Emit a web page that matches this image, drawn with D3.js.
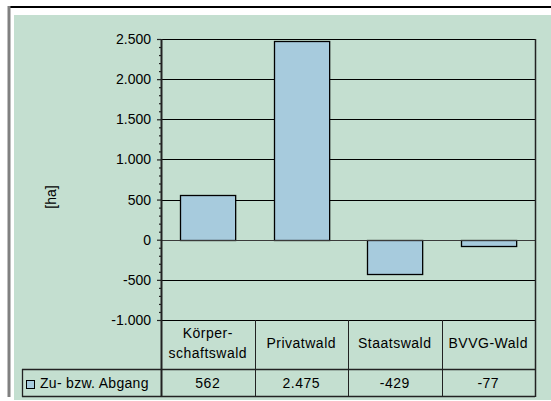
<!DOCTYPE html>
<html>
<head>
<meta charset="utf-8">
<script src="https://cdn.jsdelivr.net/npm/d3@7"></script>
<style>
  body { margin: 0; background: #fff; }
  svg text { font-family: Arial, "Liberation Sans", sans-serif; font-size: 14px; fill: #000; }
</style>
</head>
<body>
<div class="chart"></div>
<script>
// Werte
var categories = ["Körperschaftswald", "Privatwald", "Staatswald", "BVVG-Wald"];
var categoryLines = [["Körper-", "schaftswald"], ["Privatwald"], ["Staatswald"], ["BVVG-Wald"]];
var values = [562, 2475, -429, -77];
var seriesName = "Zu- bzw. Abgang";
var majorTicks = [-1000, -500, 0, 500, 1000, 1500, 2000, 2500];
var yLabel = "[ha]";

var de = d3.formatLocale({decimal: ",", thousands: ".", grouping: [3], currency: ["", " €"], minus: "-"});
var fmt = de.format(",d");

var W = 551, H = 401;
var plot = {left: 161, right: 535, top: 39, bottom: 320};
var table = {left: 22, mid: 369, bottom: 396};

var svg = d3.select(".chart").append("svg")
    .attr("width", W)
    .attr("height", H);

// Rahmen / Hintergrund
svg.append("rect")
    .attr("x", 14).attr("y", 15)
    .attr("width", W - 14).attr("height", 385)
    .attr("fill", "#c4dfd0");
svg.append("line")
    .attr("x1", 8).attr("x2", W)
    .attr("y1", 7).attr("y2", 7)
    .style("stroke", "#000").style("stroke-width", 2);
svg.append("line")
    .attr("x1", 9).attr("x2", 9)
    .attr("y1", 6).attr("y2", 397)
    .style("stroke", "#808080").style("stroke-width", 3);

var y = d3.scaleLinear()
    .domain([-1000, 2500])
    .range([plot.bottom, plot.top]);

var x = d3.scaleBand()
    .domain(categories)
    .range([plot.left, plot.right])
    .paddingInner(0.41)
    .paddingOuter(0.205);

var xCol = d3.scaleBand()
    .domain(categories)
    .range([plot.left, plot.right]);

// Gitterlinien
svg.append("g")
    .selectAll("line")
    .data(majorTicks.filter(function(d) { return d !== 0; }))
    .enter()
    .append("line")
    .attr("x1", plot.left).attr("x2", plot.right)
    .attr("y1", function(d) { return Math.round(y(d)) + 0.5; })
    .attr("y2", function(d) { return Math.round(y(d)) + 0.5; })
    .style("stroke", "#000");

// Balken
svg.append("g")
    .selectAll("rect")
    .data(values)
    .enter()
    .append("rect")
    .attr("x", function(d, i) { return Math.round(x(categories[i])) + 0.5; })
    .attr("y", function(d) { return Math.round(y(Math.max(0, d))) + 0.5; })
    .attr("width", x.bandwidth())
    .attr("height", function(d) { return Math.abs(Math.round(y(d)) - Math.round(y(0))); })
    .attr("fill", "#a7cbdd")
    .style("stroke", "#000")
    .style("stroke-width", 1.3);

// Nulllinie
svg.append("line")
    .attr("x1", plot.left).attr("x2", plot.right)
    .attr("y1", Math.round(y(0)) + 0.5).attr("y2", Math.round(y(0)) + 0.5)
    .style("stroke", "#3a3a3a");

// Y-Achse
var minorTicks = d3.range(-1000, 2501, 100).filter(function(d) { return d % 500 !== 0; });

svg.append("g")
    .attr("transform", "translate(" + (plot.left + 1) + ",0)")
    .call(d3.axisLeft(y).tickValues(minorTicks).tickSize(3).tickFormat(""))
    .call(function(g) { g.select(".domain").remove(); })
    .selectAll("line").style("stroke", "#222").style("stroke-width", 1.2);

svg.append("g")
    .attr("transform", "translate(" + plot.left + ",0)")
    .call(d3.axisLeft(y).tickValues(majorTicks).tickSize(4).tickPadding(6).tickFormat(fmt))
    .call(function(g) {
      g.select(".domain").remove();
      g.selectAll("text").style("font-size", "14px").style("font-family", "Arial, 'Liberation Sans', sans-serif");
      g.selectAll("line").style("stroke", "#222").style("stroke-width", 1.2);
    });

svg.append("line")
    .attr("x1", plot.left + 0.5).attr("x2", plot.left + 0.5)
    .attr("y1", plot.top).attr("y2", table.bottom)
    .style("stroke", "#222").style("stroke-width", 2);

// rechte Kante
svg.append("line")
    .attr("x1", plot.right + 0.5).attr("x2", plot.right + 0.5)
    .attr("y1", plot.top).attr("y2", table.bottom + 1)
    .style("stroke", "#222").style("stroke-width", 1.5);

svg.append("text")
    .attr("transform", "translate(56," + 197 + ") rotate(-90)")
    .attr("text-anchor", "middle")
    .text(yLabel);

// Datentabelle
svg.append("g")
    .selectAll("line")
    .data(categories.slice(1))
    .enter()
    .append("line")
    .attr("x1", function(d) { return Math.round(xCol(d)) + 0.5; })
    .attr("x2", function(d) { return Math.round(xCol(d)) + 0.5; })
    .attr("y1", plot.bottom).attr("y2", table.bottom)
    .style("stroke", "#222");

[table.mid, table.bottom].forEach(function(yy) {
  svg.append("line")
      .attr("x1", table.left).attr("x2", plot.right)
      .attr("y1", yy + 0.5).attr("y2", yy + 0.5)
      .style("stroke", "#222").style("stroke-width", 1.3);
});
svg.append("line")
    .attr("x1", table.left + 0.5).attr("x2", table.left + 0.5)
    .attr("y1", table.mid).attr("y2", table.bottom + 1)
    .style("stroke", "#222").style("stroke-width", 1.3);

var catText = svg.append("g")
    .selectAll("text")
    .data(categoryLines)
    .enter()
    .append("text")
    .attr("text-anchor", "middle")
    .style("letter-spacing", "0.5px")
    .attr("x", function(d, i) { return xCol(categories[i]) + xCol.bandwidth() / 2; })
    .attr("y", function(d) { return d.length > 1 ? 338 : 348; });

catText.selectAll("tspan")
    .data(function(d) { return d; })
    .enter()
    .append("tspan")
    .attr("x", function() { return d3.select(this.parentNode).attr("x"); })
    .attr("dy", function(d, i) { return i === 0 ? 0 : 20; })
    .text(function(d) { return d; });

svg.append("g")
    .selectAll("text")
    .data(values)
    .enter()
    .append("text")
    .attr("text-anchor", "middle")
    .style("letter-spacing", "0.5px")
    .attr("x", function(d, i) { return xCol(categories[i]) + xCol.bandwidth() / 2; })
    .attr("y", 388)
    .text(function(d) { return fmt(d); });

// Legendenschlüssel
svg.append("rect")
    .attr("x", 26.5).attr("y", 380.5)
    .attr("width", 8).attr("height", 8)
    .attr("fill", "#a7cbdd")
    .style("stroke", "#000");

svg.append("text")
    .attr("x", 40).attr("y", 388)
    .style("letter-spacing", "0.3px")
    .text(seriesName);
</script>
</body>
</html>
